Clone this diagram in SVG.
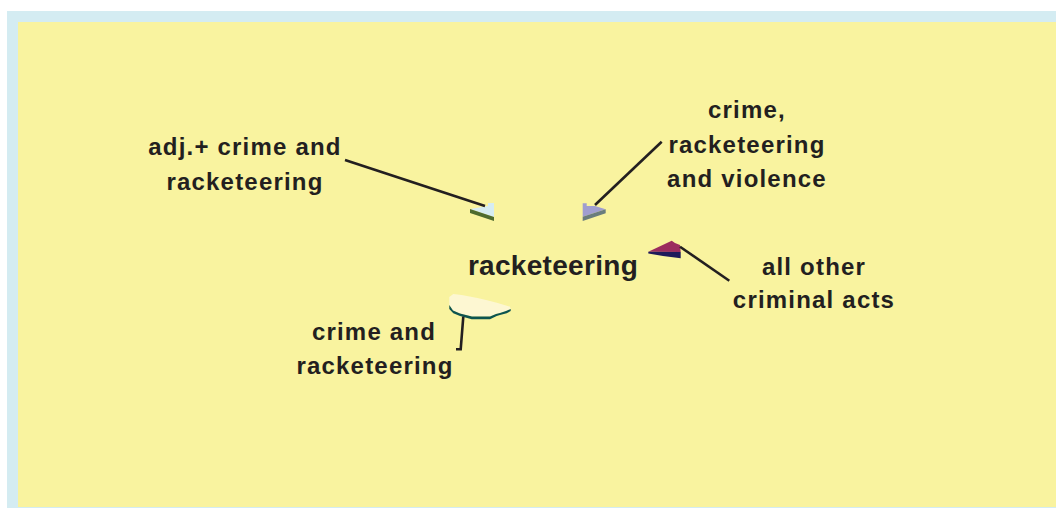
<svg xmlns="http://www.w3.org/2000/svg" width="1056" height="508" viewBox="0 0 1056 508">
<style>
.lbl{font-family:"Liberation Sans",Arial,sans-serif;font-weight:bold;font-size:24px;letter-spacing:1.2px;fill:#231f20;text-anchor:middle}
.main{font-family:"Liberation Sans",Arial,sans-serif;font-weight:bold;font-size:28px;letter-spacing:0.3px;fill:#231f20;text-anchor:middle}
.conn{stroke:#231f20;stroke-width:2.6;fill:none}
</style>
<rect x="7" y="11" width="1049" height="497" fill="#d4ecf2"/>
<rect x="18" y="22" width="1038" height="485" fill="#f9f39f"/>
<g id="center">
<text class="main" x="553" y="275">racketeering</text>
</g>
<g id="node-adj">
<polygon points="470,209 488,206 488,203 494,203 494,217" fill="#d6ecf2"/>
<polygon points="470,209 494,217 494,221 470,213" fill="#4e6b2f"/>
<text class="lbl" x="245" y="155">adj.+ crime and</text>
<text class="lbl" x="245" y="190">racketeering</text>
</g>
<g id="node-violence">
<polygon points="582.7,203.3 586.7,203.3 586.7,206 595,206 605.7,209.3 582.7,216.7" fill="#a09ed0"/>
<polygon points="582.7,216.7 605.7,209.3 605.7,213.3 582.7,221" fill="#6a7d7d"/>
<text class="lbl" x="747" y="118">crime,</text>
<text class="lbl" x="747" y="153">racketeering</text>
<text class="lbl" x="747" y="187">and violence</text>
</g>
<g id="node-other">
<polygon points="648.3,251.7 671.7,240.7 675,243 680,245 680.7,252" fill="#9b2c5e"/>
<polygon points="648.3,251.7 680.7,252 680.7,258.3 663,256 648.3,253.5" fill="#1e1a5a"/>
<text class="lbl" x="814" y="275">all other</text>
<text class="lbl" x="814" y="308">criminal acts</text>
</g>
<g id="node-crime">
<path d="M449.3,305 L449.3,297 L453.3,294 L461.7,295 Q490,300 510,306.7 L510.7,309 L506,311 L500,313 L496,314 L490,316.5 L472,316.5 L460,313.5 L453,310.5 Z" fill="#fdf7d2"/>
<path d="M449.3,305 L453,310.5 L460,313.5 L472,316.5 L490,316.5 L496,314 L500,313 L506,311 L510.7,309 L510.7,311 L506.7,313.3 L500,315 L496.7,316 L490,319.3 L471.7,319.3 L460,316 L453.3,313.3 L449.3,309 Z" fill="#0d5450"/>
<text class="lbl" x="374" y="340">crime and</text>
<text class="lbl" x="375" y="374">racketeering</text>
</g>
<g id="connectors">
<line class="conn" x1="345" y1="160" x2="485" y2="206"/>
<line class="conn" x1="661.7" y1="141.7" x2="595" y2="205"/>
<line class="conn" x1="680" y1="246.7" x2="729.3" y2="280.7"/>
<polyline class="conn" points="463.3,316.7 460.7,349.3 456,349.3"/>
</g>
</svg>
